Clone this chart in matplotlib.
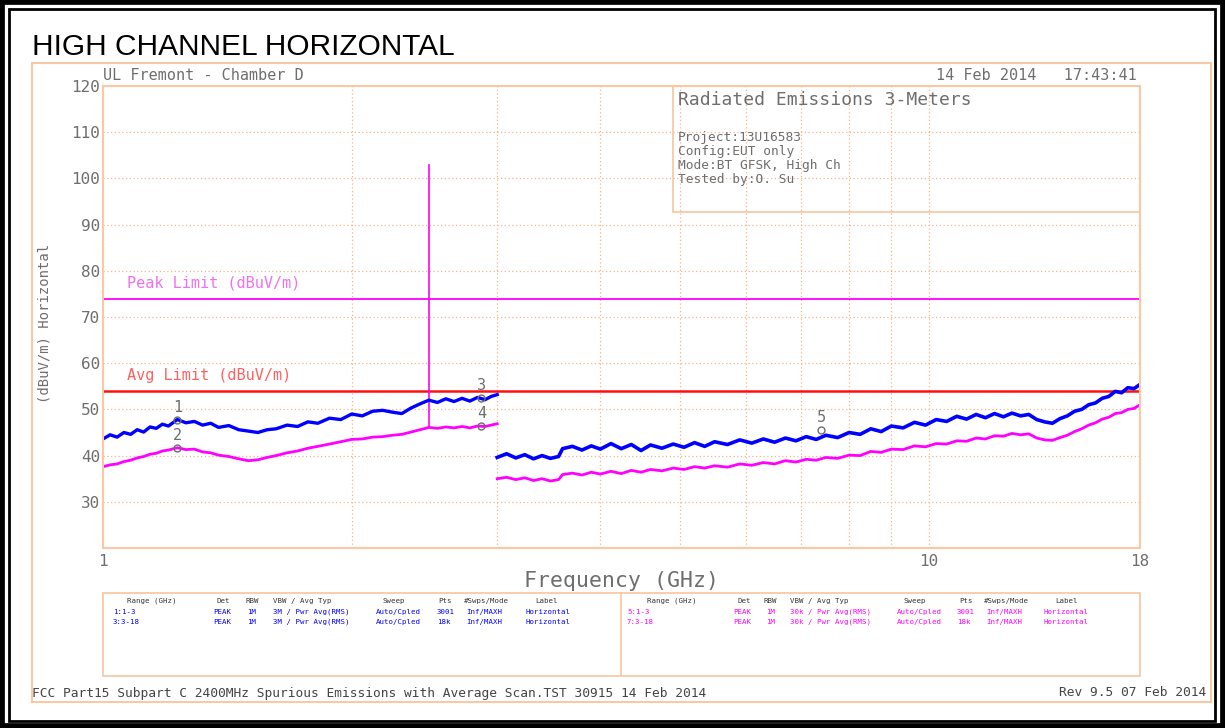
import matplotlib
matplotlib.use("Agg")
import matplotlib.pyplot as plt
from matplotlib.patches import Rectangle
from matplotlib.lines import Line2D

W, H = 1225, 728

# ---- data ----
f_low = [1.00, 1.02, 1.04, 1.06, 1.08, 1.10, 1.12, 1.14, 1.16, 1.18, 1.20, 1.23,
         1.26, 1.29, 1.32, 1.35, 1.38, 1.42, 1.46, 1.50, 1.54, 1.58, 1.62, 1.67,
         1.72, 1.77, 1.82, 1.88, 1.94, 2.00, 2.06, 2.12, 2.18, 2.24, 2.30, 2.36,
         2.42, 2.48, 2.54, 2.60, 2.66, 2.72, 2.78, 2.84, 2.90, 2.95, 3.00]
peak_low = [43.6, 44.5, 44.0, 45.0, 44.6, 45.6, 45.1, 46.2, 45.9, 46.8, 46.4, 47.8,
            47.1, 47.4, 46.6, 47.0, 46.1, 46.5, 45.6, 45.3, 45.0, 45.6, 45.8, 46.6,
            46.3, 47.3, 47.0, 48.1, 47.8, 49.0, 48.6, 49.6, 49.8, 49.4, 49.1, 50.3,
            51.2, 52.0, 51.5, 52.3, 51.7, 52.4, 51.8, 52.6, 52.1, 52.8, 53.2]
avg_low = [37.6, 38.0, 38.2, 38.7, 39.0, 39.5, 39.8, 40.3, 40.5, 41.0, 41.2, 41.7,
           41.3, 41.4, 40.8, 40.6, 40.1, 39.8, 39.3, 38.9, 39.1, 39.6, 40.0, 40.6,
           41.0, 41.6, 42.0, 42.5, 43.0, 43.5, 43.6, 44.0, 44.1, 44.4, 44.6, 45.1,
           45.6, 46.1, 45.9, 46.2, 46.0, 46.3, 46.0, 46.4, 46.3, 46.6, 46.9]

f_high = [3.00, 3.08, 3.16, 3.24, 3.32, 3.40, 3.48, 3.56, 3.60, 3.70, 3.80, 3.90,
          4.00, 4.12, 4.24, 4.36, 4.48, 4.60, 4.75, 4.90, 5.05, 5.20, 5.35, 5.50,
          5.70, 5.90, 6.10, 6.30, 6.50, 6.70, 6.90, 7.10, 7.30, 7.50, 7.75, 8.00,
          8.25, 8.50, 8.75, 9.00, 9.30, 9.60, 9.90, 10.2, 10.5, 10.8, 11.1, 11.4,
          11.7, 12.0, 12.3, 12.6, 12.9, 13.2, 13.5, 13.8, 14.1, 14.4, 14.7, 15.0,
          15.3, 15.6, 15.9, 16.2, 16.5, 16.8, 17.1, 17.4, 17.7, 18.0]
peak_high = [39.6, 40.4, 39.5, 40.2, 39.3, 40.0, 39.4, 39.8, 41.5, 42.0, 41.2, 42.1,
             41.4, 42.6, 41.5, 42.4, 41.1, 42.3, 41.6, 42.5, 41.8, 42.8, 42.0, 43.0,
             42.4, 43.4, 42.7, 43.6, 42.9, 43.8, 43.2, 44.1, 43.5, 44.4, 43.9, 45.0,
             44.6, 45.8, 45.2, 46.4, 46.0, 47.2, 46.6, 47.8, 47.4, 48.5, 47.9, 48.9,
             48.2, 49.1, 48.4, 49.2, 48.6, 48.9, 47.8, 47.3, 47.0, 48.0, 48.6, 49.6,
             50.0, 51.0, 51.4, 52.4, 52.8, 53.9, 53.6, 54.7, 54.5, 55.4]
avg_high = [35.0, 35.3, 34.8, 35.2, 34.6, 35.0, 34.5, 34.8, 35.9, 36.2, 35.8, 36.4,
            36.0, 36.6, 36.1, 36.8, 36.4, 37.0, 36.7, 37.3, 37.0, 37.6, 37.3, 37.8,
            37.5, 38.2, 37.9, 38.5, 38.2, 38.9, 38.6, 39.2, 39.0, 39.6, 39.4, 40.1,
            40.0, 40.9, 40.7, 41.4, 41.3, 42.1, 41.9, 42.6, 42.5, 43.2, 43.1, 43.8,
            43.6, 44.3, 44.2, 44.8, 44.5, 44.7, 43.8, 43.4, 43.3, 43.9, 44.4, 45.2,
            45.8, 46.6, 47.1, 47.9, 48.3, 49.1, 49.3, 50.0, 50.2, 51.0]

carrier_f = 2.48
carrier_level = [46.1, 103.0]

peak_limit = 74
avg_limit = 54

marker_ids = ["1", "2", "3", "4", "5"]
marker_f = [1.23, 1.23, 2.87, 2.87, 7.4]
marker_v = [47.6, 41.6, 52.4, 46.3, 45.6]

y_ticks = [30, 40, 50, 60, 70, 80, 90, 100, 110, 120]
x_ticks = [1, 10, 18]

table_cols = ["Range (GHz)", "Det", "RBW", "VBW / Avg Typ", "Sweep", "Pts", "#Swps/Mode", "Label"]
table_left = [["1:1-3", "PEAK", "1M", "3M / Pwr Avg(RMS)", "Auto/Cpled", "3001", "Inf/MAXH", "Horizontal"],
              ["3:3-18", "PEAK", "1M", "3M / Pwr Avg(RMS)", "Auto/Cpled", "18k", "Inf/MAXH", "Horizontal"]]
table_right = [["5:1-3", "PEAK", "1M", "30k / Pwr Avg(RMS)", "Auto/Cpled", "3001", "Inf/MAXH", "Horizontal"],
               ["7:3-18", "PEAK", "1M", "30k / Pwr Avg(RMS)", "Auto/Cpled", "18k", "Inf/MAXH", "Horizontal"]]

# ---- styles ----
ORANGE = "#f9c9a6"
GRID = "#f6b48a"
GRAY = "#6e6e6e"
BLUE = "#0000ff"
MAG = "#ff00ff"
MONO = "DejaVu Sans Mono"


def fx(x):
    return x / W


def fy(y):
    return 1 - y / H


fig = plt.figure(figsize=(W / 100, H / 100), dpi=100)

# page frame
fig.patches.append(Rectangle((0, 0), 1, 1, transform=fig.transFigure, fill=False,
                             edgecolor="black", linewidth=7))
fig.patches.append(Rectangle((fx(9), fy(721)), fx(1215 - 9), 712 / H, transform=fig.transFigure,
                             fill=False, edgecolor="black", linewidth=2))
# orange report frame
fig.patches.append(Rectangle((fx(32), fy(702)), fx(1211 - 32), (702 - 63) / H,
                             transform=fig.transFigure, fill=False, edgecolor=ORANGE, linewidth=1.5))

fig.text(fx(32), fy(47), "HIGH CHANNEL HORIZONTAL", fontsize=21.5, family="Liberation Sans",
         va="center", ha="left", color="black")

ax = fig.add_axes([fx(103), fy(548), fx(1140 - 103), (548 - 86) / H])
ax.set_xscale("log")
ax.set_xlim(1, 18)
ax.set_ylim(20, 120)

ax.set_xticks(x_ticks)
ax.set_xticklabels([str(t) for t in x_ticks])
ax.set_xticks([2, 3, 4, 5, 6, 7, 8, 9], minor=True)
ax.set_yticks(y_ticks)
ax.tick_params(axis="both", which="both", length=0, colors=GRAY, labelsize=11.5)
ax.tick_params(axis="x", pad=4)
ax.tick_params(axis="y", pad=2)
for lab in ax.get_xticklabels() + ax.get_yticklabels():
    lab.set_family(MONO)
ax.xaxis.set_minor_formatter(plt.NullFormatter())
ax.grid(True, which="both", linestyle=(0, (1, 2)), color=GRID, linewidth=0.9)
ax.set_axisbelow(True)
for s in ax.spines.values():
    s.set_color(ORANGE)
    s.set_linewidth(1.5)

# limits
ax.axhline(peak_limit, color=MAG, linewidth=1.3)
ax.axhline(avg_limit, color="#ff1010", linewidth=1.8)
ax.text(1.07, 77.4, "Peak Limit (dBuV/m)", color="#f070f0", fontsize=11, family=MONO, va="center")
ax.text(1.07, 57.4, "Avg Limit (dBuV/m)", color="#ff6060", fontsize=11, family=MONO, va="center")

# traces
ax.plot(f_low, avg_low, color=MAG, linewidth=2.0)
ax.plot(f_high, avg_high, color=MAG, linewidth=2.0)
ax.plot([carrier_f, carrier_f], carrier_level, color=MAG, linewidth=1.2)
ax.plot(f_low, peak_low, color=BLUE, linewidth=2.4)
ax.plot(f_high, peak_high, color=BLUE, linewidth=2.6)

# markers
for mid, mf, mv in zip(marker_ids, marker_f, marker_v):
    ax.plot(mf, mv, marker="o", markersize=5, markerfacecolor="none", markeredgecolor=GRAY,
            markeredgewidth=1)
    ax.text(mf, mv + 1.1, mid, color=GRAY, fontsize=11, family=MONO, ha="center", va="bottom")

ax.set_xlabel("Frequency (GHz)", fontsize=15.5, family=MONO, color=GRAY, labelpad=2)
fig.text(fx(45), fy(323), "(dBuV/m) Horizontal", rotation=90, fontsize=10, family=MONO,
         color=GRAY, ha="center", va="center")

# header texts
fig.text(fx(103), fy(75), "UL Fremont - Chamber D", fontsize=10.9, family=MONO, color=GRAY,
         va="center", ha="left")
fig.text(fx(1137), fy(75), "14 Feb 2014   17:43:41", fontsize=10.9, family=MONO, color=GRAY,
         va="center", ha="right")

# info box
fig.patches.append(Rectangle((fx(673), fy(212)), fx(1140 - 673), (212 - 86) / H,
                             transform=fig.transFigure, fill=False, edgecolor=ORANGE, linewidth=1.3))
fig.text(fx(678), fy(100), "Radiated Emissions 3-Meters", fontsize=13, family=MONO, color=GRAY,
         va="center", ha="left")
info_lines = ["Project:13U16583", "Config:EUT only", "Mode:BT GFSK, High Ch", "Tested by:O. Su"]
for i, line in enumerate(info_lines):
    fig.text(fx(678), fy(137 + 14 * i), line, fontsize=9.3, family=MONO, color=GRAY,
             va="center", ha="left")

# settings table
fig.patches.append(Rectangle((fx(103), fy(676)), fx(1140 - 103), (676 - 593) / H,
                             transform=fig.transFigure, fill=False, edgecolor=ORANGE, linewidth=1.3))
fig.lines.append(Line2D([fx(621), fx(621)], [fy(676), fy(593)], transform=fig.transFigure,
                        color=ORANGE, linewidth=1.3))

col_left = [113, 213, 247, 273, 376, 437, 466, 525]
col_right = [627, 733, 766, 790, 897, 957, 986, 1043]
head_left = [127, 217, 245, 273, 383, 438, 464, 535]
head_right = [647, 737, 764, 790, 904, 959, 984, 1055]
for cols, heads, rows, color in [(col_left, head_left, table_left, BLUE),
                                 (col_right, head_right, table_right, MAG)]:
    for name, hx in zip(table_cols, heads):
        fig.text(fx(hx), fy(601), name, fontsize=5.3, family=MONO, color="#333333",
                 va="center", ha="left")
    for r, row in enumerate(rows):
        for val, cx in zip(row, cols):
            fig.text(fx(cx), fy(612 + 10 * r), val, fontsize=5.3, family=MONO, color=color,
                     va="center", ha="left")

# footer
fig.text(fx(32), fy(693), "FCC Part15 Subpart C 2400MHz Spurious Emissions with Average Scan.TST 30915 14 Feb 2014",
         fontsize=9.3, family=MONO, color="#444444", va="center", ha="left")
fig.text(fx(1206), fy(693), "Rev 9.5 07 Feb 2014", fontsize=9.3, family=MONO, color="#444444",
         va="center", ha="right")

fig.savefig("out.png", dpi=100)
